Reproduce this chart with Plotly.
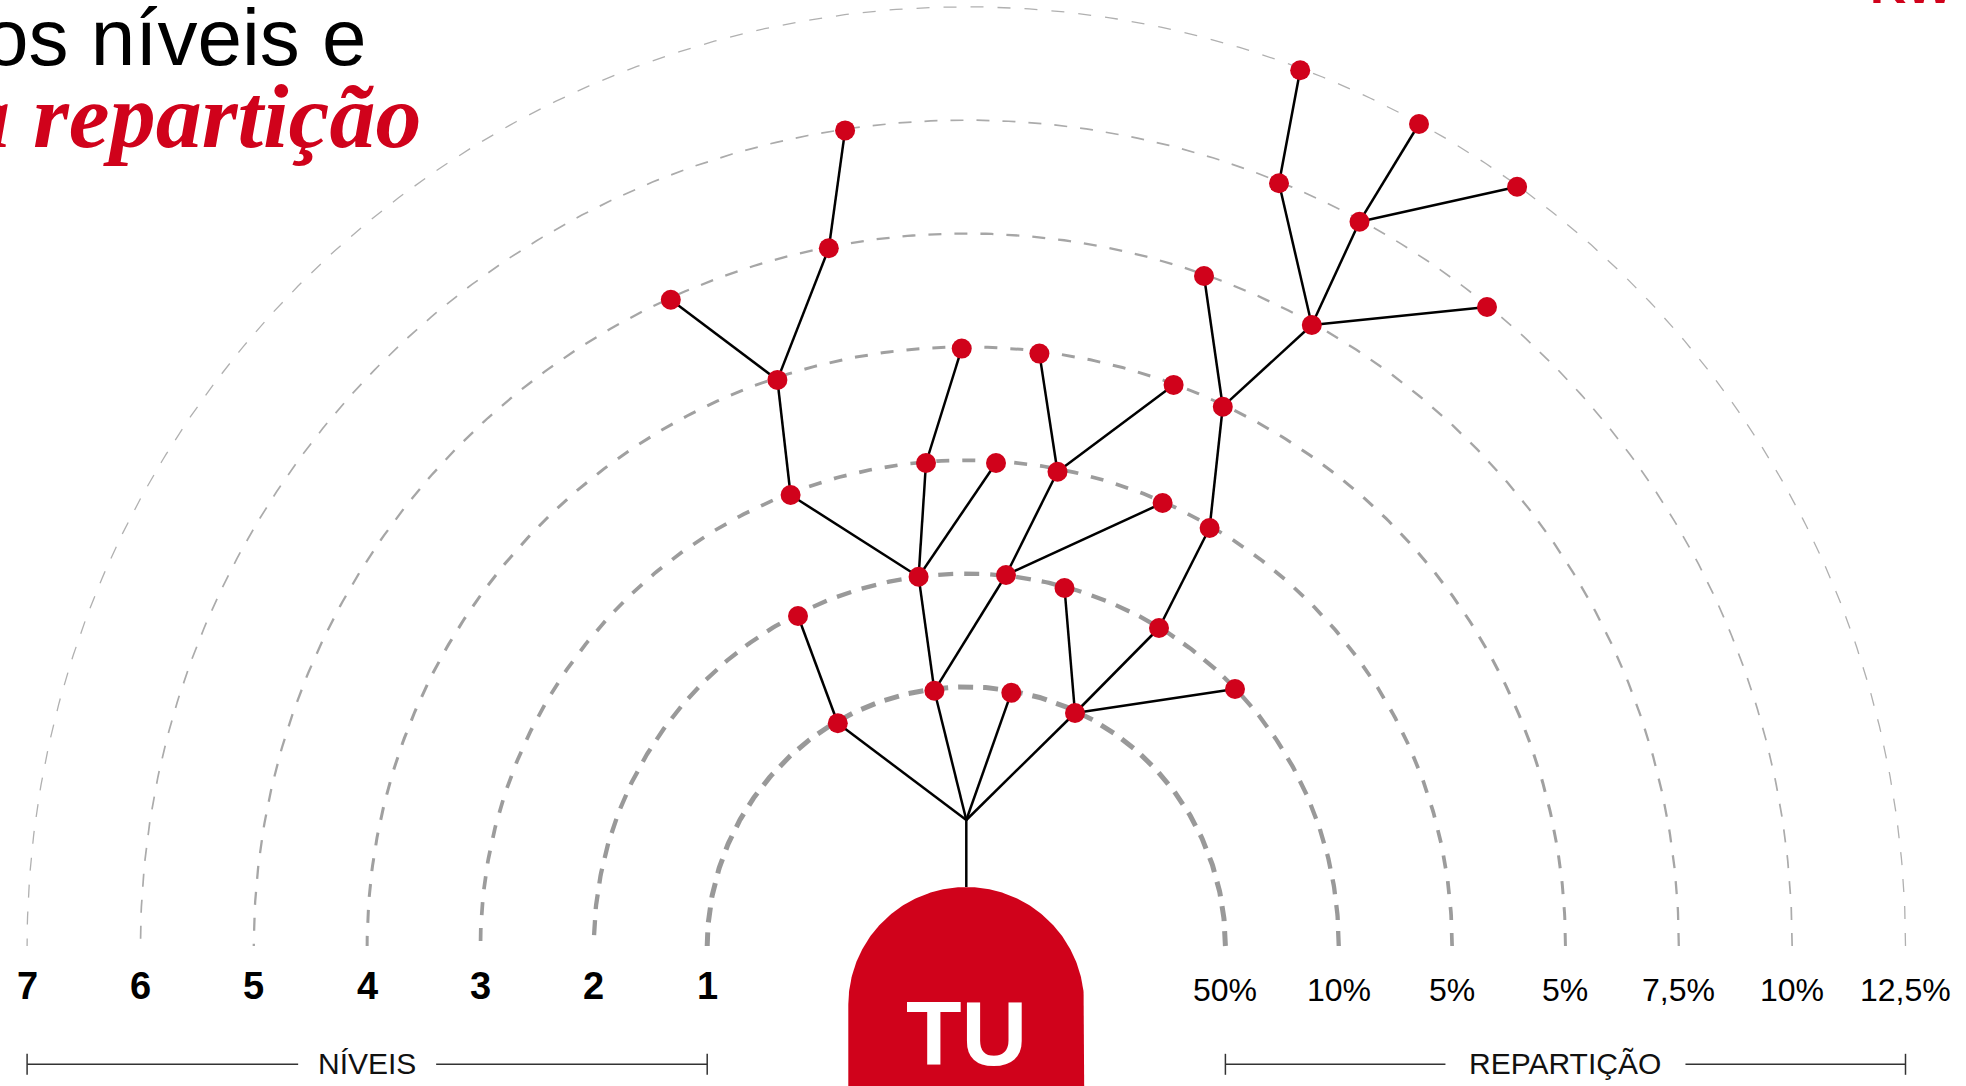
import numpy as np
import plotly.graph_objects as go

# ---------------- data ----------------
levels = [1, 2, 3, 4, 5, 6, 7]
level_labels = ["1", "2", "3", "4", "5", "6", "7"]
repartition_labels = ["50%", "10%", "5%", "5%", "7,5%", "10%", "12,5%"]

# tree (chart units: origin at base centre, y upwards)
root_x = [0.0]
root_y = [126.0]
node_x = [-128.5, -31.9, 45.0, 108.7, -168.3, -47.7, 39.7, 98.2, 192.7, 268.7,
          243.3, 256.5, 237.7, 345.5, 312.7, 393.2, 520.7, 333.9, 452.7, 550.8,
          -175.7, -40.3, 29.7, -188.9, -295.5, -137.5, -121.2, -4.6, 91.2, 196.3,
          73.1, 207.3]
node_y = [222.7, 255.3, 253.3, 233.0, 330.0, 369.3, 371.0, 358.0, 318.0, 257.0,
          418.0, 539.3, 670.0, 621.0, 762.7, 724.3, 639.0, 875.8, 822.0, 759.2,
          451.0, 483.0, 483.0, 566.1, 646.3, 697.7, 815.6, 597.4, 474.3, 443.0,
          592.4, 561.1]
node_parent = [-1, -1, -1, -1, 0, 1, 1, 3, 3, 3, 8, 10, 11, 11, 13, 13, 13, 14,
               15, 15, 5, 5, 5, 20, 23, 23, 25, 21, 6, 6, 28, 28]

title_black = "os níveis e"
title_red = "a repartição"
center_label = "TU"
axis_left_title = "NÍVEIS"
axis_right_title = "REPARTIÇÃO"

# ---------------- layout constants ----------------
W, H = 1966, 1086
X0, X1 = -966.3, 999.7
Y0, Y1 = -140.0, 946.0
ARC_R0, ARC_STEP = 259.1, 113.35
RED = "#D0021B"
SANS = "Liberation Sans, Arial, Helvetica, sans-serif"
SERIF = "Liberation Serif, DejaVu Serif, serif"


def radius(level):
    return ARC_R0 + ARC_STEP * (level - 1)


arc_width = {1: 5.0, 2: 4.3, 3: 3.7, 4: 3.0, 5: 2.3, 6: 1.7, 7: 1.3}
arc_color = {1: "#999999", 2: "#999999", 3: "#9c9c9c", 4: "#a0a0a0",
             5: "#a6a6a6", 6: "#ababab", 7: "#b0b0b0"}
arc_dash = {1: "15px,10px", 2: "15px,11px", 3: "13px,13px", 4: "13px,13px",
            5: "13px,13px", 6: "13px,13px", 7: "13px,14px"}

fig = go.Figure()

theta = np.linspace(0, np.pi, 400)
for lv in levels:
    r = radius(lv)
    fig.add_trace(go.Scatter(
        x=r * np.cos(theta), y=r * np.sin(theta), mode="lines",
        line=dict(color=arc_color[lv], width=arc_width[lv], dash=arc_dash[lv]),
        hoverinfo="skip", showlegend=False))

# TU base shape (semicircle top)
TU_R = 118.0
TU_CY = -59.0
t = np.linspace(0, np.pi, 200)
sx = np.concatenate([[TU_R], TU_R * np.cos(t), [-TU_R]])
sy = np.concatenate([[Y0 - 20], TU_CY + TU_R * np.sin(t), [Y0 - 20]])
fig.add_trace(go.Scatter(x=sx, y=sy, mode="lines", fill="toself",
                         fillcolor=RED, line=dict(color=RED, width=0),
                         hoverinfo="skip", showlegend=False))

# stem
fig.add_trace(go.Scatter(x=[root_x[0], root_x[0]], y=[root_y[0], TU_CY + TU_R],
                         mode="lines", line=dict(color="black", width=2.5),
                         hoverinfo="skip", showlegend=False))

# edges
ex, ey = [], []
for i, p in enumerate(node_parent):
    px_ = root_x[0] if p < 0 else node_x[p]
    py_ = root_y[0] if p < 0 else node_y[p]
    ex += [px_, node_x[i], None]
    ey += [py_, node_y[i], None]
fig.add_trace(go.Scatter(x=ex, y=ey, mode="lines",
                         line=dict(color="black", width=2.5),
                         hoverinfo="skip", showlegend=False))

# nodes
fig.add_trace(go.Scatter(x=node_x, y=node_y, mode="markers",
                         marker=dict(color=RED, size=20, line=dict(width=0)),
                         hoverinfo="skip", showlegend=False))

annotations = []
for lv, lab, rep in zip(levels, level_labels, repartition_labels):
    r = radius(lv)
    annotations.append(dict(x=-r, y=-40.3, xref="x", yref="y", text=f"<b>{lab}</b>",
                            showarrow=False, xanchor="center", yanchor="middle",
                            font=dict(family=SANS, size=38, color="black")))
    annotations.append(dict(x=r, y=-44.0, xref="x", yref="y", text=rep,
                            showarrow=False, xanchor="center", yanchor="middle",
                            font=dict(family=SANS, size=32, color="black")))

# bracket titles
left_a, left_b = -radius(7), -radius(1)
right_a, right_b = radius(1), radius(7)
BR_Y = -118.3
shapes = []
for a, b, txt, gap in [(left_a, left_b, axis_left_title, 69.0),
                       (right_a, right_b, axis_right_title, 120.0)]:
    mid = (a + b) / 2
    line_style = dict(color="#333333", width=1.5)
    shapes.append(dict(type="line", xref="x", yref="y", x0=a, x1=mid - gap,
                       y0=BR_Y, y1=BR_Y, line=line_style))
    shapes.append(dict(type="line", xref="x", yref="y", x0=mid + gap, x1=b,
                       y0=BR_Y, y1=BR_Y, line=line_style))
    for xx in (a, b):
        shapes.append(dict(type="line", xref="x", yref="y", x0=xx, x1=xx,
                           y0=BR_Y - 10.5, y1=BR_Y + 10.5, line=line_style))
    annotations.append(dict(x=mid, y=BR_Y + 0.8, xref="x", yref="y", text=txt,
                            showarrow=False, xanchor="center", yanchor="middle",
                            font=dict(family=SANS, size=30, color="#111111")))

# centre label
annotations.append(dict(x=0, y=-87, xref="x", yref="y", text=f"<b>{center_label}</b>",
                        showarrow=False, xanchor="center", yanchor="middle",
                        font=dict(family=SANS, size=91, color="white")))

# titles (cut at left edge, as in the original)
annotations.append(dict(x=-598.3, y=909, xref="x", yref="y", text=title_black,
                        showarrow=False, xanchor="right", yanchor="middle",
                        font=dict(family=SANS, size=80, color="black")))
annotations.append(dict(x=-543.3, y=830, xref="x", yref="y",
                        text=f"<b><i>{title_red}</i></b>",
                        showarrow=False, xanchor="right", yanchor="middle",
                        font=dict(family=SERIF, size=92, color=RED)))
# logo fragment at top right
annotations.append(dict(x=990.0, y=930.4, xref="x", yref="y", text="<b>KW</b>",
                        showarrow=False, xanchor="right", yanchor="bottom",
                        font=dict(family=SANS, size=50, color=RED)))

fig.update_layout(
    width=W, height=H, margin=dict(l=0, r=0, t=0, b=0),
    paper_bgcolor="white", plot_bgcolor="white",
    xaxis=dict(range=[X0, X1], visible=False, fixedrange=True),
    yaxis=dict(range=[Y0, Y1], visible=False, fixedrange=True),
    shapes=shapes, annotations=annotations, showlegend=False,
)

fig.write_html("out.html",
               config={"displayModeBar": False, "staticPlot": True},
               post_script="document.body.style.margin='0';document.body.style.overflow='hidden';")
